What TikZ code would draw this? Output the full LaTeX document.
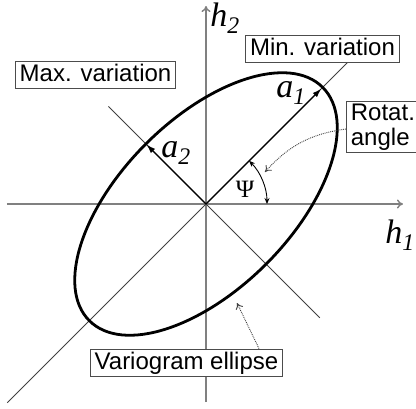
\documentclass[tikz,border=0pt]{standalone}
\usepackage{fontspec}
\setmainfont{Liberation Sans}
\newfontfamily\serifit{Liberation Serif}
\usetikzlibrary{arrows.meta}

\tikzset{
  axis/.style={draw=black!50, line width=1.4pt, -{To[length=6pt,width=9pt]}},
  diag/.style={draw=black!75, line width=0.9pt},
  boxbase/.style={draw=black!70, line width=0.8pt, fill=white, inner xsep=4.5pt, inner ysep=2pt,
    font=\fontsize{24}{25}\selectfont},
  labbox/.style={boxbase, text height=18pt, text depth=5pt},
  mlab/.style={font=\fontsize{34}{36}\selectfont\serifit\itshape},
  pointer/.style={draw=black!75, densely dotted, line width=0.9pt, -{To[length=6pt,width=8pt]}},
}

\begin{document}
\begin{tikzpicture}[x=1pt,y=1pt]
  \useasboundingbox (-206,-204) rectangle (210,204);
  \coordinate (O) at (0,0);

  % Axes
  \coordinate (xl) at (-199,0);
  \coordinate (xr) at (197,0);
  \coordinate (yb) at (0,-198);
  \coordinate (yt) at (0,198);
  \draw[axis] (xl) -- (xr);
  \draw[axis] (yb) -- (yt);
  \node[mlab] (h1lab) at (194,-31) {h\textsubscript{1}};
  \node[mlab] (h2lab) at (19,186) {h\textsubscript{2}};

  % Principal directions
  \coordinate (dl) at (225:281);
  \coordinate (dr) at (45:202);
  \coordinate (ul) at (135:138);
  \coordinate (lr) at (-45:161);
  \draw[diag] (dl) -- (dr);
  \draw[diag] (ul) -- (lr);

  % Variogram ellipse
  \draw[line width=2.8pt, rotate=45] (O) ellipse [x radius=165, y radius=85];
  \coordinate (a1end) at (45:163);
  \coordinate (a2end) at (135:84);
  \draw[line width=1.1pt, -{Latex[length=9pt,width=6pt]}] (O) -- (a1end);
  \draw[line width=1.1pt, -{Latex[length=9pt,width=6pt]}] (O) -- (a2end);
  \node[mlab] (a1lab) at (85,111) {a\textsubscript{1}};
  \node[mlab] (a2lab) at (-30,51) {a\textsubscript{2}};

  % Rotation angle
  \draw[line width=0.9pt, {Stealth[length=6pt,width=5pt]}-{Stealth[length=6pt,width=5pt]}]
    (45:61) arc[start angle=45, end angle=0, radius=61];
  \node[font=\fontsize{25}{27}\selectfont\serifit] (psi) at (39,15) {Ψ};

  % Labels
  \node[labbox] (maxlab) at (-110.5,129) {Max. variation};
  \node[labbox] (minlab) at (116.5,155.5) {Min. variation};
  \node[boxbase, align=left, text width=72pt, anchor=west] (rotlab) at (140,77) {Rotat.\\angle};
  \node[labbox] (varlab) at (-19.5,-158.5) {Variogram ellipse};

  % Pointers
  \coordinate (rottip) at (59,32);
  \coordinate (vartip) at (31,-99);
  \draw[pointer] (rotlab.west |- 0,75) to[bend right=20] (rottip);
  \draw[pointer] (varlab.north -| 53,0) -- (vartip);
\end{tikzpicture}
\end{document}
